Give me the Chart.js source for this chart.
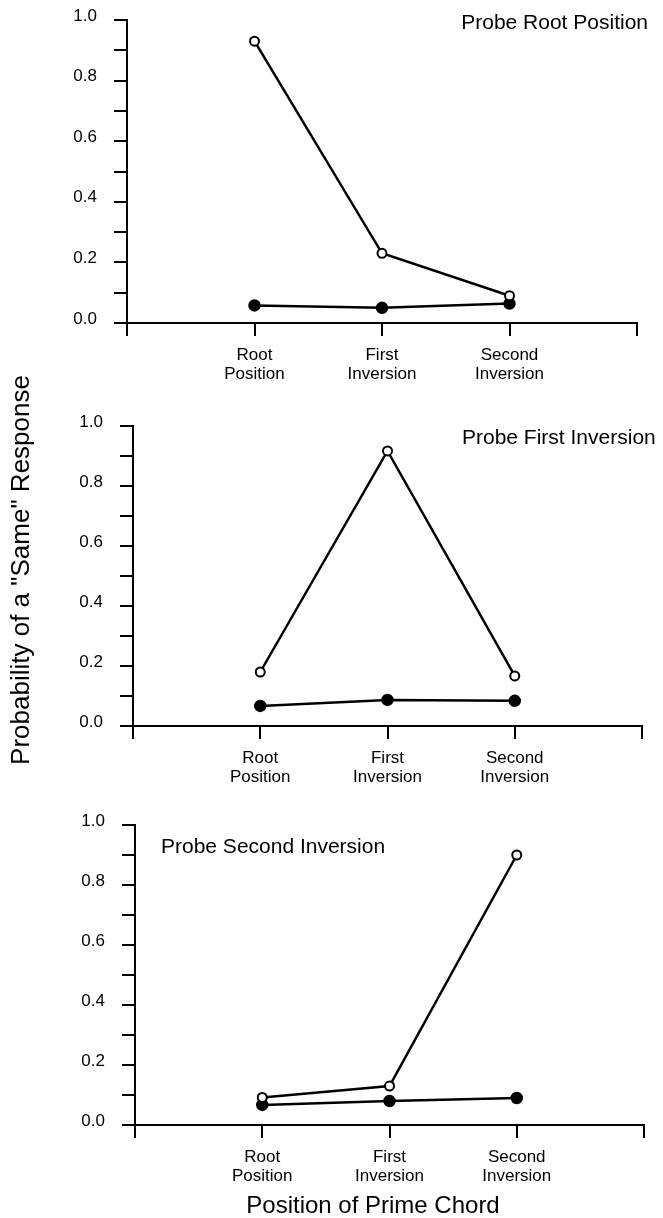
<!DOCTYPE html>
<html>
<head>
<meta charset="utf-8">
<script src="https://cdn.jsdelivr.net/npm/chart.js@4/dist/chart.umd.min.js"></script>
<style>
  body { margin: 0; background: #fff; }
  #page { position: relative; width: 663px; height: 1218px; overflow: hidden; }
  /* canvases start 20px above the page so the top tick label has room */
  #page canvas { position: absolute; left: 0; top: -20px; }
</style>
</head>
<body>
<div id="page">
  <canvas id="panel-1" width="663" height="1238"></canvas>
  <canvas id="panel-2" width="663" height="1238"></canvas>
  <canvas id="panel-3" width="663" height="1238"></canvas>
</div>
<script>
const categories = [['Root', 'Position'], ['First', 'Inversion'], ['Second', 'Inversion']];
const panelTitles = ['Probe Root Position', 'Probe First Inversion', 'Probe Second Inversion'];
const yTickLabels = ['0.0', '0.2', '0.4', '0.6', '0.8', '1.0'];

// open circles / filled circles for each probe
const rootOpen = [0.93, 0.23, 0.09];
const rootFilled = [0.058, 0.05, 0.064];
const firstOpen = [0.18, 0.917, 0.167];
const firstFilled = [0.067, 0.087, 0.084];
const secondOpen = [0.092, 0.13, 0.90];
const secondFilled = [0.067, 0.08, 0.09];

const FONT = '"Liberation Sans", Arial, Helvetica, sans-serif';
const SHIFT = 20; // canvas top sits this far above the page
const CANVAS_H = 1238;
Chart.defaults.font.family = FONT;
Chart.defaults.color = '#000';

// plain text drawn on top of a chart (panel labels, axis titles)
function textPlugin(items) {
    return {
        id: 'panelText',
        afterDraw(chart) {
            const ctx = chart.ctx;
            items.forEach((it) => {
                ctx.save();
                ctx.font = it.size + 'px ' + FONT;
                ctx.fillStyle = '#000';
                ctx.textAlign = it.align;
                ctx.textBaseline = 'alphabetic';
                ctx.translate(it.x, it.y + SHIFT);
                if (it.rotate) ctx.rotate(it.rotate);
                ctx.fillText(it.text, 0, 0);
                ctx.restore();
            });
        },
    };
}

function toPoints(values) {
    return values.map((v, i) => ({ x: i + 1, y: v }));
}

function makePanel(id, open, filled, area, texts) {
    const xHeight = 60;
    const axisGrid = {
        display: true,
        drawOnChartArea: false,
        drawTicks: true,
        tickLength: 13,
        color: '#000',
        lineWidth: 2,
    };
    return new Chart(document.getElementById(id), {
        type: 'line',
        data: {
            datasets: [
                {
                    data: toPoints(open),
                    borderColor: '#000',
                    borderWidth: 2.5,
                    backgroundColor: '#fff',
                    pointBackgroundColor: '#fff',
                    pointBorderColor: '#000',
                    pointBorderWidth: 2,
                    pointRadius: 4.5,
                },
                {
                    data: toPoints(filled),
                    borderColor: '#000',
                    borderWidth: 2.5,
                    backgroundColor: '#000',
                    pointBackgroundColor: '#000',
                    pointBorderColor: '#000',
                    pointRadius: 5,
                },
            ],
        },
        options: {
            responsive: false,
            animation: false,
            events: [],
            clip: false,
            layout: {
                padding: {
                    top: area.top + SHIFT,
                    right: 663 - area.right,
                    bottom: CANVAS_H - (area.bottom + SHIFT) - xHeight,
                    left: 0,
                },
            },
            plugins: {
                legend: { display: false },
                tooltip: { enabled: false },
            },
            scales: {
                x: {
                    type: 'linear',
                    min: 0,
                    max: 4,
                    grid: axisGrid,
                    border: { display: true, color: '#000', width: 2 },
                    ticks: {
                        stepSize: 1,
                        autoSkip: false,
                        maxRotation: 0,
                        padding: 10,
                        font: { size: 17, lineHeight: 1.1 },
                        callback: (v) => categories[v - 1] || '',
                    },
                    afterFit: (s) => { s.height = xHeight; },
                },
                y: {
                    min: 0,
                    max: 1,
                    grid: axisGrid,
                    border: { display: true, color: '#000', width: 2 },
                    ticks: {
                        stepSize: 0.1,
                        autoSkip: false,
                        padding: 17,
                        labelOffset: -4,
                        font: { size: 17 },
                        callback: (v, i) => (i % 2 === 0 ? yTickLabels[i / 2] : ''),
                    },
                    afterFit: (s) => { s.width = area.left; },
                },
            },
        },
        plugins: [textPlugin(texts)],
    });
}

makePanel('panel-1', rootOpen, rootFilled,
    { left: 127, right: 637, top: 20, bottom: 323 },
    [{ text: panelTitles[0], x: 648, y: 29, size: 21, align: 'right' }]);

makePanel('panel-2', firstOpen, firstFilled,
    { left: 133, right: 642, top: 426, bottom: 726 },
    [
        { text: panelTitles[1], x: 462, y: 444, size: 21, align: 'left' },
        { text: 'Probability of a "Same" Response', x: 29, y: 570, size: 26, align: 'center', rotate: -Math.PI / 2 },
    ]);

makePanel('panel-3', secondOpen, secondFilled,
    { left: 135, right: 644, top: 825, bottom: 1125 },
    [
        { text: panelTitles[2], x: 161, y: 853, size: 21, align: 'left' },
        { text: 'Position of Prime Chord', x: 373, y: 1213, size: 24, align: 'center' },
    ]);
</script>
</body>
</html>
